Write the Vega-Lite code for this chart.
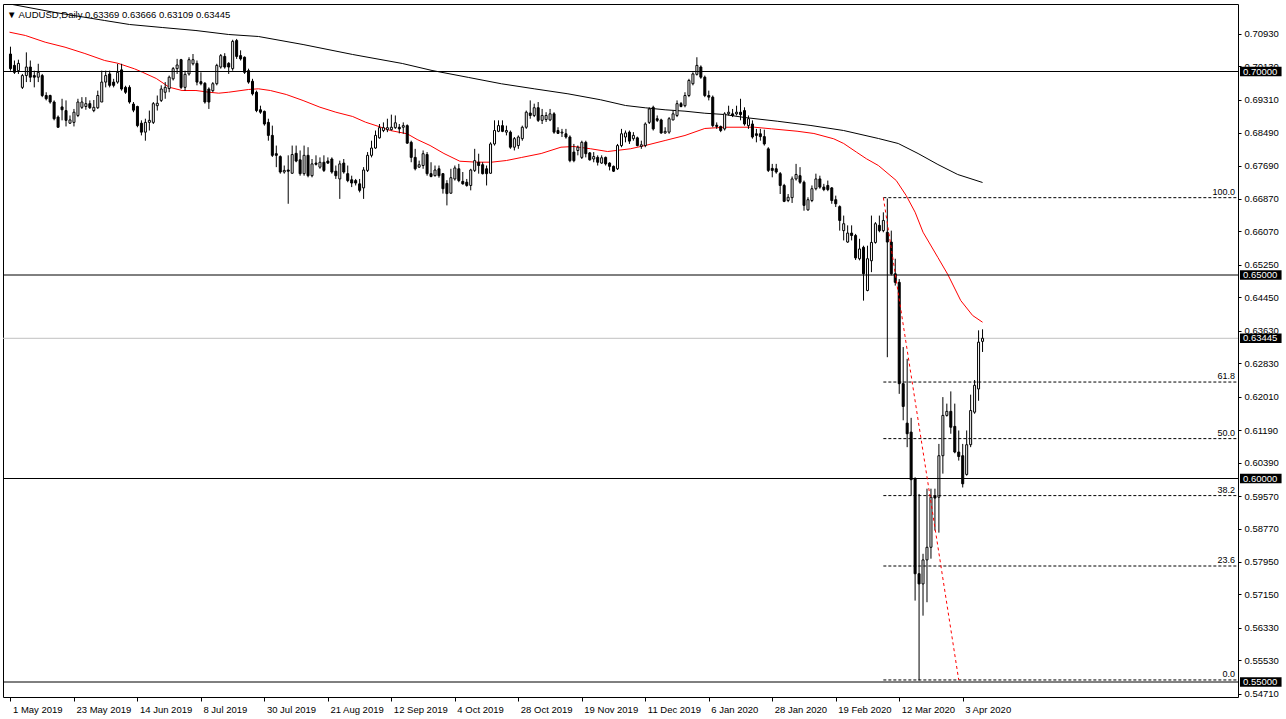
{
"$schema":"https://vega.github.io/schema/vega-lite/v6.json",
"width":1235,"height":693,
"autosize":{"type":"none"},
"padding":{"left":3,"top":4,"right":48,"bottom":22},
"background":"#ffffff",
"config":{"view":{"stroke":"#000000","strokeWidth":1},"font":"Liberation Sans","axis":{"labelOverlap":false,"labelSeparation":0}},
"title":{"text":"▼ AUDUSD,Daily  0.63369 0.63666 0.63109 0.63445","anchor":"start","frame":"group","offset":-15,"dx":4,"fontSize":9.5,"fontWeight":"normal","font":"Liberation Sans","color":"#000000"},
"datasets":{
"candles":[
{"i":0,"o":0.7043,"h":0.7061,"l":0.7002,"c":0.7007},{"i":1,"o":0.7015,"h":0.7027,"l":0.6994,"c":0.6998},{"i":2,"o":0.7002,"h":0.7029,"l":0.6994,"c":0.702},{"i":3,"o":0.6961,"h":0.6994,"l":0.6957,"c":0.699},{"i":4,"o":0.699,"h":0.7047,"l":0.6974,"c":0.7011},{"i":5,"o":0.7011,"h":0.7027,"l":0.6974,"c":0.6986},{"i":6,"o":0.699,"h":0.7002,"l":0.6961,"c":0.6986},{"i":7,"o":0.6986,"h":0.7019,"l":0.6974,"c":0.6998},{"i":8,"o":0.699,"h":0.6994,"l":0.6937,"c":0.6941},{"i":9,"o":0.6941,"h":0.6949,"l":0.6929,"c":0.6933},
{"i":10,"o":0.6941,"h":0.6943,"l":0.6921,"c":0.6925},{"i":11,"o":0.6925,"h":0.6929,"l":0.688,"c":0.6884},{"i":12,"o":0.6888,"h":0.6892,"l":0.6862,"c":0.6863},{"i":13,"o":0.6913,"h":0.6933,"l":0.688,"c":0.6906},{"i":14,"o":0.6904,"h":0.6929,"l":0.6865,"c":0.688},{"i":15,"o":0.6873,"h":0.6892,"l":0.6871,"c":0.6881},{"i":16,"o":0.6875,"h":0.6908,"l":0.6865,"c":0.69},{"i":17,"o":0.6892,"h":0.6933,"l":0.6888,"c":0.6925},{"i":18,"o":0.6912,"h":0.6937,"l":0.6908,"c":0.6925},{"i":19,"o":0.6914,"h":0.6937,"l":0.6906,"c":0.6921},
{"i":20,"o":0.6921,"h":0.6929,"l":0.6908,"c":0.6911},{"i":21,"o":0.6904,"h":0.693,"l":0.69,"c":0.6912},{"i":22,"o":0.6911,"h":0.6953,"l":0.6908,"c":0.6941},{"i":23,"o":0.6925,"h":0.7002,"l":0.6925,"c":0.6974},{"i":24,"o":0.6974,"h":0.7002,"l":0.6961,"c":0.699},{"i":25,"o":0.6994,"h":0.7002,"l":0.6961,"c":0.6966},{"i":26,"o":0.6974,"h":0.6982,"l":0.6961,"c":0.6966},{"i":27,"o":0.6974,"h":0.7019,"l":0.697,"c":0.6998},{"i":28,"o":0.7004,"h":0.7019,"l":0.6953,"c":0.6957},{"i":29,"o":0.6961,"h":0.6965,"l":0.6945,"c":0.6949},
{"i":30,"o":0.6961,"h":0.6966,"l":0.6921,"c":0.6925},{"i":31,"o":0.692,"h":0.6925,"l":0.69,"c":0.6905},{"i":32,"o":0.6914,"h":0.6916,"l":0.6863,"c":0.6867},{"i":33,"o":0.6873,"h":0.688,"l":0.6843,"c":0.6851},{"i":34,"o":0.6851,"h":0.6884,"l":0.683,"c":0.6875},{"i":35,"o":0.6875,"h":0.6904,"l":0.6855,"c":0.688},{"i":36,"o":0.6875,"h":0.6925,"l":0.6871,"c":0.6921},{"i":37,"o":0.6916,"h":0.6941,"l":0.6904,"c":0.6922},{"i":38,"o":0.6929,"h":0.6966,"l":0.6925,"c":0.6957},{"i":39,"o":0.6949,"h":0.6974,"l":0.6933,"c":0.6961},
{"i":40,"o":0.6958,"h":0.699,"l":0.6949,"c":0.6986},{"i":41,"o":0.6982,"h":0.7011,"l":0.6978,"c":0.7007},{"i":42,"o":0.7007,"h":0.7031,"l":0.6994,"c":0.7016},{"i":43,"o":0.7029,"h":0.7031,"l":0.6957,"c":0.6961},{"i":44,"o":0.6961,"h":0.7002,"l":0.6953,"c":0.6993},{"i":45,"o":0.6994,"h":0.7035,"l":0.699,"c":0.7029},{"i":46,"o":0.7019,"h":0.7043,"l":0.7015,"c":0.7029},{"i":47,"o":0.702,"h":0.7027,"l":0.6966,"c":0.6974},{"i":48,"o":0.6975,"h":0.6998,"l":0.6966,"c":0.697},{"i":49,"o":0.6971,"h":0.6974,"l":0.6921,"c":0.6925},
{"i":50,"o":0.6957,"h":0.6961,"l":0.6908,"c":0.6925},{"i":51,"o":0.6953,"h":0.6974,"l":0.6949,"c":0.697},{"i":52,"o":0.697,"h":0.7019,"l":0.6966,"c":0.7015},{"i":53,"o":0.7011,"h":0.7043,"l":0.7007,"c":0.7039},{"i":54,"o":0.7037,"h":0.7045,"l":0.7007,"c":0.7011},{"i":55,"o":0.702,"h":0.7023,"l":0.6994,"c":0.7011},{"i":56,"o":0.7007,"h":0.7078,"l":0.7002,"c":0.7074},{"i":57,"o":0.7076,"h":0.708,"l":0.7031,"c":0.7037},{"i":58,"o":0.7039,"h":0.7052,"l":0.7027,"c":0.7031},{"i":59,"o":0.7035,"h":0.7037,"l":0.6994,"c":0.6998},
{"i":60,"o":0.7002,"h":0.7007,"l":0.697,"c":0.6974},{"i":61,"o":0.6976,"h":0.6982,"l":0.6941,"c":0.6945},{"i":62,"o":0.6949,"h":0.6953,"l":0.69,"c":0.6904},{"i":63,"o":0.6906,"h":0.6916,"l":0.6896,"c":0.69},{"i":64,"o":0.6902,"h":0.6904,"l":0.6867,"c":0.6871},{"i":65,"o":0.6875,"h":0.6884,"l":0.683,"c":0.6843},{"i":66,"o":0.6843,"h":0.6867,"l":0.679,"c":0.6794},{"i":67,"o":0.6798,"h":0.6818,"l":0.6765,"c":0.6794},{"i":68,"o":0.6791,"h":0.6794,"l":0.6749,"c":0.6753},{"i":69,"o":0.6753,"h":0.6769,"l":0.6749,"c":0.6757},
{"i":70,"o":0.6758,"h":0.6794,"l":0.6675,"c":0.6755},{"i":71,"o":0.675,"h":0.6818,"l":0.6749,"c":0.6796},{"i":72,"o":0.6799,"h":0.6818,"l":0.6777,"c":0.678},{"i":73,"o":0.6783,"h":0.6806,"l":0.6744,"c":0.6749},{"i":74,"o":0.6749,"h":0.6818,"l":0.6744,"c":0.6794},{"i":75,"o":0.6794,"h":0.6814,"l":0.674,"c":0.6744},{"i":76,"o":0.6744,"h":0.6785,"l":0.674,"c":0.6773},{"i":77,"o":0.6775,"h":0.6794,"l":0.6769,"c":0.6772},{"i":78,"o":0.6765,"h":0.6789,"l":0.6761,"c":0.6777},{"i":79,"o":0.6777,"h":0.6794,"l":0.6753,"c":0.6757},
{"i":80,"o":0.678,"h":0.6789,"l":0.6773,"c":0.6775},{"i":81,"o":0.6785,"h":0.6789,"l":0.6749,"c":0.6753},{"i":82,"o":0.6755,"h":0.6769,"l":0.6736,"c":0.6744},{"i":83,"o":0.6736,"h":0.6781,"l":0.6687,"c":0.6773},{"i":84,"o":0.6775,"h":0.6785,"l":0.6749,"c":0.6753},{"i":85,"o":0.6749,"h":0.6769,"l":0.6728,"c":0.6732},{"i":86,"o":0.6734,"h":0.6744,"l":0.6716,"c":0.6726},{"i":87,"o":0.6732,"h":0.6736,"l":0.672,"c":0.6726},{"i":88,"o":0.6724,"h":0.6736,"l":0.6703,"c":0.6708},{"i":89,"o":0.6714,"h":0.6765,"l":0.6687,"c":0.6758},
{"i":90,"o":0.6757,"h":0.6802,"l":0.6753,"c":0.6794},{"i":91,"o":0.6794,"h":0.683,"l":0.6789,"c":0.6812},{"i":92,"o":0.6812,"h":0.6855,"l":0.681,"c":0.6843},{"i":93,"o":0.6837,"h":0.6871,"l":0.6835,"c":0.6862},{"i":94,"o":0.6855,"h":0.6875,"l":0.6851,"c":0.6862},{"i":95,"o":0.6857,"h":0.6884,"l":0.6851,"c":0.6862},{"i":96,"o":0.6857,"h":0.6894,"l":0.6855,"c":0.6863},{"i":97,"o":0.6862,"h":0.6892,"l":0.6859,"c":0.6874},{"i":98,"o":0.6863,"h":0.6871,"l":0.6848,"c":0.6859},{"i":99,"o":0.6863,"h":0.6875,"l":0.6847,"c":0.6867},
{"i":100,"o":0.6867,"h":0.687,"l":0.6822,"c":0.6824},{"i":101,"o":0.6826,"h":0.683,"l":0.6777,"c":0.6789},{"i":102,"o":0.6789,"h":0.681,"l":0.6757,"c":0.6761},{"i":103,"o":0.6765,"h":0.6781,"l":0.6763,"c":0.6771},{"i":104,"o":0.6769,"h":0.6806,"l":0.6761,"c":0.6798},{"i":105,"o":0.6796,"h":0.6802,"l":0.6744,"c":0.6749},{"i":106,"o":0.6749,"h":0.6777,"l":0.674,"c":0.6742},{"i":107,"o":0.6744,"h":0.6769,"l":0.6742,"c":0.6758},{"i":108,"o":0.6761,"h":0.6769,"l":0.6739,"c":0.6744},{"i":109,"o":0.6749,"h":0.675,"l":0.67,"c":0.6712},
{"i":110,"o":0.6725,"h":0.6733,"l":0.6671,"c":0.67},{"i":111,"o":0.6701,"h":0.6761,"l":0.67,"c":0.6739},{"i":112,"o":0.6736,"h":0.6769,"l":0.6732,"c":0.6763},{"i":113,"o":0.6761,"h":0.6773,"l":0.6728,"c":0.6732},{"i":114,"o":0.673,"h":0.6753,"l":0.6722,"c":0.6724},{"i":115,"o":0.6728,"h":0.6736,"l":0.6717,"c":0.672},{"i":116,"o":0.672,"h":0.6761,"l":0.6708,"c":0.6758},{"i":117,"o":0.6757,"h":0.681,"l":0.6753,"c":0.6781},{"i":118,"o":0.6777,"h":0.6798,"l":0.6749,"c":0.6769},{"i":119,"o":0.6771,"h":0.6777,"l":0.6747,"c":0.6749},
{"i":120,"o":0.6761,"h":0.6769,"l":0.672,"c":0.6749},{"i":121,"o":0.675,"h":0.6826,"l":0.6749,"c":0.6822},{"i":122,"o":0.6822,"h":0.688,"l":0.6818,"c":0.6855},{"i":123,"o":0.6853,"h":0.688,"l":0.6851,"c":0.6867},{"i":124,"o":0.6867,"h":0.688,"l":0.6851,"c":0.6853},{"i":125,"o":0.6851,"h":0.6867,"l":0.6843,"c":0.6855},{"i":126,"o":0.6851,"h":0.6855,"l":0.681,"c":0.6814},{"i":127,"o":0.6814,"h":0.6839,"l":0.6806,"c":0.6835},{"i":128,"o":0.6818,"h":0.6843,"l":0.681,"c":0.6839},{"i":129,"o":0.6835,"h":0.6867,"l":0.683,"c":0.6863},
{"i":130,"o":0.6863,"h":0.6904,"l":0.6859,"c":0.69},{"i":131,"o":0.6898,"h":0.6929,"l":0.6884,"c":0.6892},{"i":132,"o":0.6892,"h":0.6921,"l":0.6888,"c":0.6911},{"i":133,"o":0.6911,"h":0.6925,"l":0.6876,"c":0.688},{"i":134,"o":0.688,"h":0.6908,"l":0.6871,"c":0.6892},{"i":135,"o":0.6882,"h":0.69,"l":0.6876,"c":0.6892},{"i":136,"o":0.6881,"h":0.6908,"l":0.6878,"c":0.6896},{"i":137,"o":0.6896,"h":0.69,"l":0.6847,"c":0.6851},{"i":138,"o":0.6855,"h":0.6863,"l":0.6847,"c":0.6848},{"i":139,"o":0.6849,"h":0.6859,"l":0.6839,"c":0.6851},
{"i":140,"o":0.6847,"h":0.6859,"l":0.6835,"c":0.6839},{"i":141,"o":0.6839,"h":0.6843,"l":0.6777,"c":0.6781},{"i":142,"o":0.6802,"h":0.6822,"l":0.6777,"c":0.6781},{"i":143,"o":0.6806,"h":0.6818,"l":0.6794,"c":0.6814},{"i":144,"o":0.6789,"h":0.683,"l":0.6785,"c":0.6826},{"i":145,"o":0.6826,"h":0.683,"l":0.6789,"c":0.6798},{"i":146,"o":0.68,"h":0.6802,"l":0.6781,"c":0.6783},{"i":147,"o":0.6785,"h":0.6802,"l":0.6777,"c":0.6791},{"i":148,"o":0.6789,"h":0.6794,"l":0.6769,"c":0.6777},{"i":149,"o":0.6775,"h":0.6794,"l":0.6773,"c":0.6788},
{"i":150,"o":0.6789,"h":0.6791,"l":0.6769,"c":0.6773},{"i":151,"o":0.6775,"h":0.6777,"l":0.6757,"c":0.6767},{"i":152,"o":0.6767,"h":0.6769,"l":0.6753,"c":0.6755},{"i":153,"o":0.6761,"h":0.6822,"l":0.6758,"c":0.6818},{"i":154,"o":0.6818,"h":0.6859,"l":0.6814,"c":0.6847},{"i":155,"o":0.6839,"h":0.6855,"l":0.6826,"c":0.6849},{"i":156,"o":0.6851,"h":0.6855,"l":0.6822,"c":0.6829},{"i":157,"o":0.6835,"h":0.6851,"l":0.683,"c":0.6843},{"i":158,"o":0.6837,"h":0.684,"l":0.6816,"c":0.6818},{"i":159,"o":0.6816,"h":0.683,"l":0.681,"c":0.682},
{"i":160,"o":0.6818,"h":0.6875,"l":0.6814,"c":0.6871},{"i":161,"o":0.6875,"h":0.6912,"l":0.6871,"c":0.6908},{"i":162,"o":0.6912,"h":0.6916,"l":0.6855,"c":0.6859},{"i":163,"o":0.6884,"h":0.6892,"l":0.6876,"c":0.688},{"i":164,"o":0.6881,"h":0.6884,"l":0.6847,"c":0.6849},{"i":165,"o":0.6849,"h":0.6863,"l":0.6847,"c":0.6853},{"i":166,"o":0.6851,"h":0.6888,"l":0.6847,"c":0.6884},{"i":167,"o":0.6881,"h":0.6904,"l":0.688,"c":0.6896},{"i":168,"o":0.6892,"h":0.6929,"l":0.6888,"c":0.6921},{"i":169,"o":0.6921,"h":0.6925,"l":0.6912,"c":0.6914},
{"i":170,"o":0.6916,"h":0.6949,"l":0.6912,"c":0.6941},{"i":171,"o":0.6941,"h":0.6982,"l":0.6937,"c":0.6978},{"i":172,"o":0.697,"h":0.6998,"l":0.6966,"c":0.6994},{"i":173,"o":0.6993,"h":0.7035,"l":0.699,"c":0.7015},{"i":174,"o":0.7011,"h":0.7015,"l":0.6982,"c":0.6986},{"i":175,"o":0.6986,"h":0.699,"l":0.6937,"c":0.6941},{"i":176,"o":0.6941,"h":0.6953,"l":0.6929,"c":0.6937},{"i":177,"o":0.6937,"h":0.6941,"l":0.6863,"c":0.6867},{"i":178,"o":0.6868,"h":0.6875,"l":0.6859,"c":0.6865},{"i":179,"o":0.6865,"h":0.6867,"l":0.6851,"c":0.6855},
{"i":180,"o":0.6859,"h":0.69,"l":0.6855,"c":0.6896},{"i":181,"o":0.6896,"h":0.6916,"l":0.6892,"c":0.69},{"i":182,"o":0.6896,"h":0.6908,"l":0.6888,"c":0.6892},{"i":183,"o":0.6896,"h":0.6916,"l":0.6892,"c":0.69},{"i":184,"o":0.69,"h":0.6933,"l":0.688,"c":0.6894},{"i":185,"o":0.6904,"h":0.6912,"l":0.6867,"c":0.6871},{"i":186,"o":0.6867,"h":0.6892,"l":0.6859,"c":0.6884},{"i":187,"o":0.6871,"h":0.688,"l":0.6835,"c":0.6839},{"i":188,"o":0.6847,"h":0.6859,"l":0.6826,"c":0.6843},{"i":189,"o":0.6847,"h":0.6859,"l":0.683,"c":0.684},
{"i":190,"o":0.684,"h":0.6857,"l":0.6818,"c":0.6822},{"i":191,"o":0.681,"h":0.6814,"l":0.6753,"c":0.6757},{"i":192,"o":0.6762,"h":0.6773,"l":0.674,"c":0.6757},{"i":193,"o":0.6761,"h":0.6773,"l":0.6749,"c":0.6753},{"i":194,"o":0.6749,"h":0.6753,"l":0.6699,"c":0.672},{"i":195,"o":0.672,"h":0.6724,"l":0.6679,"c":0.6681},{"i":196,"o":0.6683,"h":0.6699,"l":0.6679,"c":0.6691},{"i":197,"o":0.669,"h":0.6742,"l":0.6677,"c":0.6736},{"i":198,"o":0.6736,"h":0.6773,"l":0.6732,"c":0.6747},{"i":199,"o":0.6744,"h":0.6765,"l":0.6724,"c":0.6728},
{"i":200,"o":0.6728,"h":0.6732,"l":0.6658,"c":0.6671},{"i":201,"o":0.666,"h":0.6691,"l":0.6658,"c":0.6685},{"i":202,"o":0.6683,"h":0.672,"l":0.6679,"c":0.6712},{"i":203,"o":0.6712,"h":0.6749,"l":0.6708,"c":0.6736},{"i":204,"o":0.6736,"h":0.6744,"l":0.6712,"c":0.6716},{"i":205,"o":0.6716,"h":0.6724,"l":0.6706,"c":0.671},{"i":206,"o":0.672,"h":0.6732,"l":0.6706,"c":0.671},{"i":207,"o":0.6714,"h":0.6716,"l":0.6675,"c":0.6683},{"i":208,"o":0.6685,"h":0.6695,"l":0.6667,"c":0.6675},{"i":209,"o":0.6668,"h":0.6671,"l":0.6609,"c":0.6634},
{"i":210,"o":0.6609,"h":0.6646,"l":0.6585,"c":0.6626},{"i":211,"o":0.6581,"h":0.6622,"l":0.6579,"c":0.6603},{"i":212,"o":0.6603,"h":0.6622,"l":0.6585,"c":0.6597},{"i":213,"o":0.6597,"h":0.6601,"l":0.6537,"c":0.6542},{"i":214,"o":0.654,"h":0.6589,"l":0.6536,"c":0.6564},{"i":215,"o":0.6568,"h":0.6572,"l":0.6437,"c":0.6503},{"i":216,"o":0.6462,"h":0.6572,"l":0.646,"c":0.654},{"i":217,"o":0.6535,"h":0.6646,"l":0.6507,"c":0.658},{"i":218,"o":0.658,"h":0.663,"l":0.6577,"c":0.6626},{"i":219,"o":0.6622,"h":0.6646,"l":0.6605,"c":0.6609},
{"i":220,"o":0.6609,"h":0.6654,"l":0.6605,"c":0.6634},{"i":221,"o":0.6605,"h":0.6688,"l":0.6298,"c":0.6581},{"i":222,"o":0.6581,"h":0.6609,"l":0.6499,"c":0.6503},{"i":223,"o":0.6503,"h":0.654,"l":0.6474,"c":0.6482},{"i":224,"o":0.6482,"h":0.649,"l":0.6208,"c":0.6233},{"i":225,"o":0.6233,"h":0.6323,"l":0.6143,"c":0.6177},{"i":226,"o":0.6136,"h":0.6294,"l":0.6077,"c":0.611},{"i":227,"o":0.6114,"h":0.6149,"l":0.5958,"c":0.5997},{"i":228,"o":0.5999,"h":0.6003,"l":0.57,"c":0.5766},{"i":229,"o":0.5766,"h":0.5962,"l":0.5504,"c":0.5741},
{"i":230,"o":0.5741,"h":0.5815,"l":0.5663,"c":0.58},{"i":231,"o":0.58,"h":0.5975,"l":0.5696,"c":0.5831},{"i":232,"o":0.5831,"h":0.5975,"l":0.5803,"c":0.5954},{"i":233,"o":0.5957,"h":0.5975,"l":0.5872,"c":0.5952},{"i":234,"o":0.5954,"h":0.6085,"l":0.5867,"c":0.6056},{"i":235,"o":0.6056,"h":0.62,"l":0.6012,"c":0.6155},{"i":236,"o":0.6155,"h":0.6184,"l":0.6152,"c":0.6165},{"i":237,"o":0.6165,"h":0.6214,"l":0.611,"c":0.6126},{"i":238,"o":0.6128,"h":0.6184,"l":0.6062,"c":0.6065},{"i":239,"o":0.6065,"h":0.6118,"l":0.6044,"c":0.6054},
{"i":240,"o":0.6056,"h":0.6085,"l":0.5978,"c":0.5987},{"i":241,"o":0.601,"h":0.6118,"l":0.6007,"c":0.6083},{"i":242,"o":0.6083,"h":0.6206,"l":0.6077,"c":0.6167},{"i":243,"o":0.6163,"h":0.6242,"l":0.6159,"c":0.6229},{"i":244,"o":0.622,"h":0.6364,"l":0.6191,"c":0.6335},{"i":245,"o":0.63369,"h":0.63666,"l":0.63109,"c":0.63445}
],
"ma50":[
{"i":-0.25,"v":0.70966},{"i":3.75,"v":0.70885},{"i":8.75,"v":0.7072},{"i":13.75,"v":0.70597},{"i":18.75,"v":0.70442},{"i":23.75,"v":0.7027},{"i":27,"v":0.70204},{"i":31.25,"v":0.70066},{"i":33.25,"v":0.69983},{"i":36.75,"v":0.69828},{"i":40,"v":0.69614},{"i":43.25,"v":0.69533},{"i":46.75,"v":0.69533},{"i":50,"v":0.69491},{"i":52.5,"v":0.69467},{"i":55,"v":0.69491},{"i":60,"v":0.69558},{"i":62.5,"v":0.69575},{"i":65.5,"v":0.69533},{"i":69.5,"v":0.69435},{"i":73.75,"v":0.69287},{"i":78,"v":0.69123},{"i":82,"v":0.69},{"i":86.25,"v":0.68894},{"i":89.5,"v":0.68754},{"i":93.25,"v":0.68636},{"i":95.75,"v":0.6855},{"i":100,"v":0.68469},{"i":102.5,"v":0.68329},{"i":105.75,"v":0.68182},{"i":109.25,"v":0.67985},{"i":113.25,"v":0.67796},{"i":117.5,"v":0.67772},{"i":121.25,"v":0.67772},{"i":125,"v":0.67813},{"i":128.75,"v":0.67887},{"i":133.75,"v":0.67985},{"i":138.75,"v":0.6814},{"i":142,"v":0.68157},{"i":146.25,"v":0.68101},{"i":150.5,"v":0.68034},{"i":156.25,"v":0.68101},{"i":160,"v":0.68182},{"i":165,"v":0.68305},{"i":170,"v":0.68428},{"i":175,"v":0.686},{"i":180,"v":0.68631},{"i":187.5,"v":0.68631},{"i":191.75,"v":0.68592},{"i":198.25,"v":0.68533},{"i":202.5,"v":0.68477},{"i":207.5,"v":0.68346},{"i":210,"v":0.68231},{"i":213.25,"v":0.68017},{"i":215.75,"v":0.67855},{"i":218.75,"v":0.6769},{"i":223.25,"v":0.67322},{"i":225.75,"v":0.66953},{"i":228,"v":0.66543},{"i":230,"v":0.66052},{"i":233.75,"v":0.6543},{"i":236.25,"v":0.65012},{"i":239.5,"v":0.64373},{"i":242.5,"v":0.64005},{"i":245,"v":0.6384}
],
"ma200":[
{"i":-0.25,"v":0.7166},{"i":11.25,"v":0.7145},{"i":23.75,"v":0.71253},{"i":30,"v":0.71155},{"i":38.25,"v":0.71081},{"i":46.75,"v":0.71007},{"i":55,"v":0.70909},{"i":62.5,"v":0.7086},{"i":73.75,"v":0.70663},{"i":86.25,"v":0.70418},{"i":98.75,"v":0.70197},{"i":106.25,"v":0.70025},{"i":115.5,"v":0.69853},{"i":123.75,"v":0.69698},{"i":132,"v":0.69575},{"i":140.5,"v":0.69452},{"i":148.75,"v":0.69305},{"i":155,"v":0.69165},{"i":160,"v":0.69108},{"i":165,"v":0.69059},{"i":170,"v":0.69025},{"i":175,"v":0.68975},{"i":180,"v":0.68943},{"i":185,"v":0.6887},{"i":193.25,"v":0.68779},{"i":201.75,"v":0.68673},{"i":210,"v":0.6855},{"i":218.75,"v":0.68354},{"i":223.75,"v":0.68231},{"i":228.75,"v":0.67985},{"i":233.75,"v":0.67715},{"i":238.75,"v":0.67469},{"i":245,"v":0.67273}
],
"hlines":[{"p":0.7},{"p":0.65},{"p":0.6},{"p":0.55}],
"price":[{"p":0.63445}],
"boxes":[{"p":0.7},{"p":0.65},{"p":0.6},{"p":0.55},{"p":0.63445}],
"fib":[{"i0":220,"p":0.669,"lbl":"100.0"},{"i0":220,"p":0.6237,"lbl":"61.8"},{"i0":220,"p":0.6098,"lbl":"50.0"},{"i0":220,"p":0.5958,"lbl":"38.2"},{"i0":220,"p":0.5785,"lbl":"23.6"},{"i0":220,"p":0.5505,"lbl":"0.0"}],
"fibline":[{"i":220,"p":0.669},{"i":239,"p":0.5505}]
},
"layer":[
{"data":{"name":"ma200"},"mark":{"type":"line","color":"#000000","strokeWidth":1,"clip":true},
 "encoding":{
  "x":{"field":"i","type":"quantitative","title":null,"scale":{"domain":[-0.625,308.125],"nice":false,"zero":false},
   "axis":{"orient":"bottom","values":[0,16,32,48,64,80,96,112,128,144,160,176,192,208,224,240],"tickCount":40,
    "labelExpr":"['1 May 2019','23 May 2019','14 Jun 2019','8 Jul 2019','30 Jul 2019','21 Aug 2019','12 Sep 2019','4 Oct 2019','28 Oct 2019','19 Nov 2019','11 Dec 2019','6 Jan 2020','28 Jan 2020','19 Feb 2020','12 Mar 2020','3 Apr 2020'][round(datum.value/16)]",
    "labelAlign":"left","labelBaseline":"top","labelPadding":3,"labelOffset":2,"tickSize":4,"tickColor":"#000000","domain":false,"grid":false,
    "labelFont":"Liberation Sans","labelFontSize":9.5,"labelColor":"#000000","labelOverlap":false,"labelFlush":false,"labelBound":false}},
  "y":{"field":"v","type":"quantitative","title":null,"scale":{"domain":[0.546315,0.716585],"nice":false,"zero":false},
   "axis":{"orient":"right","values":[0.7093,0.7013,0.6931,0.6849,0.6769,0.6687,0.6607,0.6525,0.6445,0.6363,0.6283,0.6201,0.6119,0.6039,0.5957,0.5877,0.5795,0.5715,0.5633,0.5553,0.5471],"tickCount":50,
    "format":".5f","tickSize":3,"tickColor":"#000000","labelPadding":3,"domain":false,"grid":false,
    "labelFont":"Liberation Sans","labelFontSize":9.5,"labelColor":"#000000","labelOverlap":false,"labelSeparation":0,"labelBound":false,"labelFlush":false}}
 }},
{"data":{"name":"ma50"},"mark":{"type":"line","color":"#ff0000","strokeWidth":1,"clip":true},
 "encoding":{
  "x":{"field":"i","type":"quantitative","title":null,"scale":{"domain":[-0.625,308.125],"nice":false,"zero":false}},
  "y":{"field":"v","type":"quantitative","title":null,"scale":{"domain":[0.546315,0.716585],"nice":false,"zero":false}}}},
{"data":{"name":"price"},"mark":{"type":"rule","color":"#c0c0c0","strokeWidth":1},
 "encoding":{"y":{"field":"p","type":"quantitative","title":null,"scale":{"domain":[0.546315,0.716585],"nice":false,"zero":false}}}},
{"data":{"name":"candles"},"mark":{"type":"rule","color":"#000000","strokeWidth":1},
 "encoding":{
  "x":{"field":"i","type":"quantitative","title":null,"scale":{"domain":[-0.625,308.125],"nice":false,"zero":false}},
  "y":{"field":"l","type":"quantitative","title":null,"scale":{"domain":[0.546315,0.716585],"nice":false,"zero":false}},
  "y2":{"field":"h"}}},
{"data":{"name":"candles"},"mark":{"type":"bar","size":2,"stroke":"#000000","strokeWidth":1},
 "encoding":{
  "x":{"field":"i","type":"quantitative","title":null,"scale":{"domain":[-0.625,308.125],"nice":false,"zero":false}},
  "y":{"field":"o","type":"quantitative","title":null,"scale":{"domain":[0.546315,0.716585],"nice":false,"zero":false}},
  "y2":{"field":"c"},
  "fill":{"condition":{"test":"datum.c >= datum.o","value":"#ffffff"},"value":"#000000"}}},
{"data":{"name":"hlines"},"mark":{"type":"rule","color":"#000000","strokeWidth":1},
 "encoding":{"y":{"field":"p","type":"quantitative","title":null,"scale":{"domain":[0.546315,0.716585],"nice":false,"zero":false}}}},
{"data":{"name":"fib"},"mark":{"type":"rule","color":"#000000","strokeWidth":1,"strokeDash":[3,2]},
 "encoding":{
  "x":{"field":"i0","type":"quantitative","title":null,"scale":{"domain":[-0.625,308.125],"nice":false,"zero":false}},
  "x2":{"value":"width"},
  "y":{"field":"p","type":"quantitative","title":null,"scale":{"domain":[0.546315,0.716585],"nice":false,"zero":false}}}},
{"data":{"name":"fib"},"mark":{"type":"text","align":"right","baseline":"bottom","dx":-3,"dy":-1,"fontSize":9,"font":"Liberation Sans","color":"#000000"},
 "encoding":{
  "x":{"value":"width"},
  "y":{"field":"p","type":"quantitative","title":null,"scale":{"domain":[0.546315,0.716585],"nice":false,"zero":false}},
  "text":{"field":"lbl"}}},
{"data":{"name":"fibline"},"mark":{"type":"line","color":"#ff0000","strokeWidth":1,"strokeDash":[3,3]},
 "encoding":{
  "x":{"field":"i","type":"quantitative","title":null,"scale":{"domain":[-0.625,308.125],"nice":false,"zero":false}},
  "y":{"field":"p","type":"quantitative","title":null,"scale":{"domain":[0.546315,0.716585],"nice":false,"zero":false}}}},
{"data":{"name":"boxes"},"mark":{"type":"point","shape":"M0.09,-0.215H1.98V0.215H0.09Z","size":1936,"filled":true,"fill":"#000000","strokeWidth":0,"opacity":1},
 "encoding":{
  "x":{"value":"width"},
  "y":{"field":"p","type":"quantitative","title":null,"scale":{"domain":[0.546315,0.716585],"nice":false,"zero":false}}}},
{"data":{"name":"boxes"},"mark":{"type":"text","align":"left","baseline":"middle","dx":5,"fontSize":9.5,"font":"Liberation Sans","color":"#ffffff"},
 "encoding":{
  "x":{"value":"width"},
  "y":{"field":"p","type":"quantitative","title":null,"scale":{"domain":[0.546315,0.716585],"nice":false,"zero":false}},
  "text":{"field":"p","format":".5f"}}}
]
}
